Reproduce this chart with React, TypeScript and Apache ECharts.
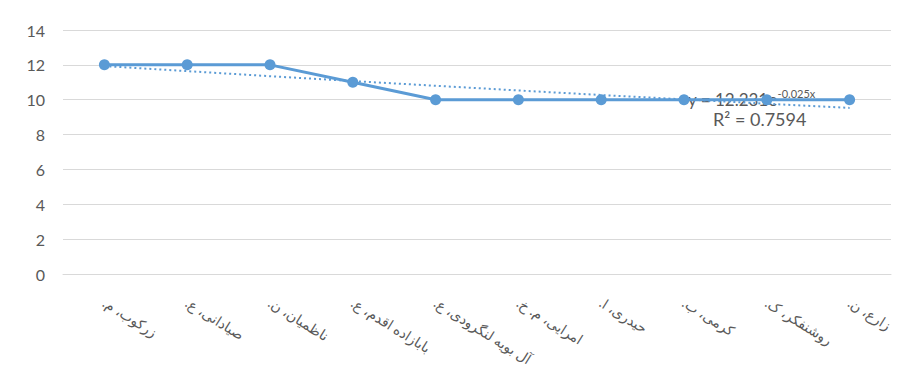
import React, { useEffect, useRef } from "react";
import * as echarts from "echarts";

const categories = [
  "زرکوب، م.",
  "صیادانی، ع.",
  "ناظمیان، ن.",
  "بابازاده اقدم، ع.",
  "آل بویه لنگرودی، ع.",
  "امرایی، م. خ.",
  "حیدری، ا.",
  "کرمی، ب.",
  "روشنفکر، ک.",
  "زارع، ن.",
];
const values = [12, 12, 12, 11, 10, 10, 10, 10, 10, 10];
// trendline (y = 12.231e^-0.025x)
const trendValues = [11.93, 11.64, 11.35, 11.07, 10.8, 10.53, 10.27, 10.02, 9.77, 9.53];
const yTicks = { min: 0, max: 14, interval: 2 };
const equationText = "y = 12.231e";
const equationExp = "-0.025x";
const r2Text = "R² = 0.7594";

const FONT = "Lato, 'DejaVu Sans', sans-serif";
const BLUE = "#5B9BD5";
const GRAY = "#595959";
const RLM = "\u200F";

export default function App() {
  const ref = useRef<HTMLDivElement>(null);
  useEffect(() => {
    if (!ref.current) return;
    const chart = echarts.init(ref.current, undefined, { renderer: "svg" });
    chart.setOption({
      animation: false,
      backgroundColor: "#ffffff",
      textStyle: { fontFamily: FONT },
      grid: { left: 63, right: 13, top: 30, bottom: 111, containLabel: false },
      xAxis: {
        type: "category",
        data: categories,
        boundaryGap: true,
        axisLine: { show: true, lineStyle: { color: "#d9d9d9" } },
        axisTick: { show: false },
        axisLabel: {
          rotate: -32,
          color: GRAY,
          fontSize: 14,
          fontFamily: FONT,
          margin: 27,
          interval: 0,
          formatter: (v: string) => v + RLM,
        },
      },
      yAxis: {
        type: "value",
        min: yTicks.min,
        max: yTicks.max,
        interval: yTicks.interval,
        axisLine: { show: false },
        axisTick: { show: false },
        splitLine: { lineStyle: { color: "#d9d9d9", width: 1 } },
        axisLabel: { color: GRAY, fontSize: 16, fontFamily: FONT, margin: 18 },
      },
      series: [
        {
          type: "line",
          data: values,
          symbol: "circle",
          symbolSize: 11,
          lineStyle: { color: BLUE, width: 3 },
          itemStyle: { color: BLUE },
          z: 3,
        },
        {
          type: "line",
          data: trendValues,
          symbol: "none",
          smooth: false,
          lineStyle: { color: BLUE, width: 2, type: [2, 3] },
          z: 2,
        },
      ],
      graphic: [
        {
          type: "rect",
          shape: { x: 7, y: 7, width: 890, height: 373 },
          style: { fill: "none", stroke: "#d9d9d9", lineWidth: 1 },
          silent: true,
          z: -1,
        },
        {
          type: "text",
          x: 688,
          y: 88,
          style: {
            text: `{b|${equationText}}{s|${equationExp}}`,
            rich: {
              b: { fontSize: 17, fill: GRAY, fontFamily: FONT, verticalAlign: "bottom", lineHeight: 20 },
              s: { fontSize: 11, fill: GRAY, fontFamily: FONT, verticalAlign: "top", padding: [0, 0, 9, 0] },
            },
          },
          z: 1,
        },
        {
          type: "text",
          x: 713,
          y: 110,
          style: { text: r2Text, fontSize: 18, fill: GRAY, fontFamily: FONT },
          z: 1,
        },
      ],
    });
    return () => chart.dispose();
  }, []);
  return <div ref={ref} style={{ width: 904, height: 385, margin: -8 }} />;
}
